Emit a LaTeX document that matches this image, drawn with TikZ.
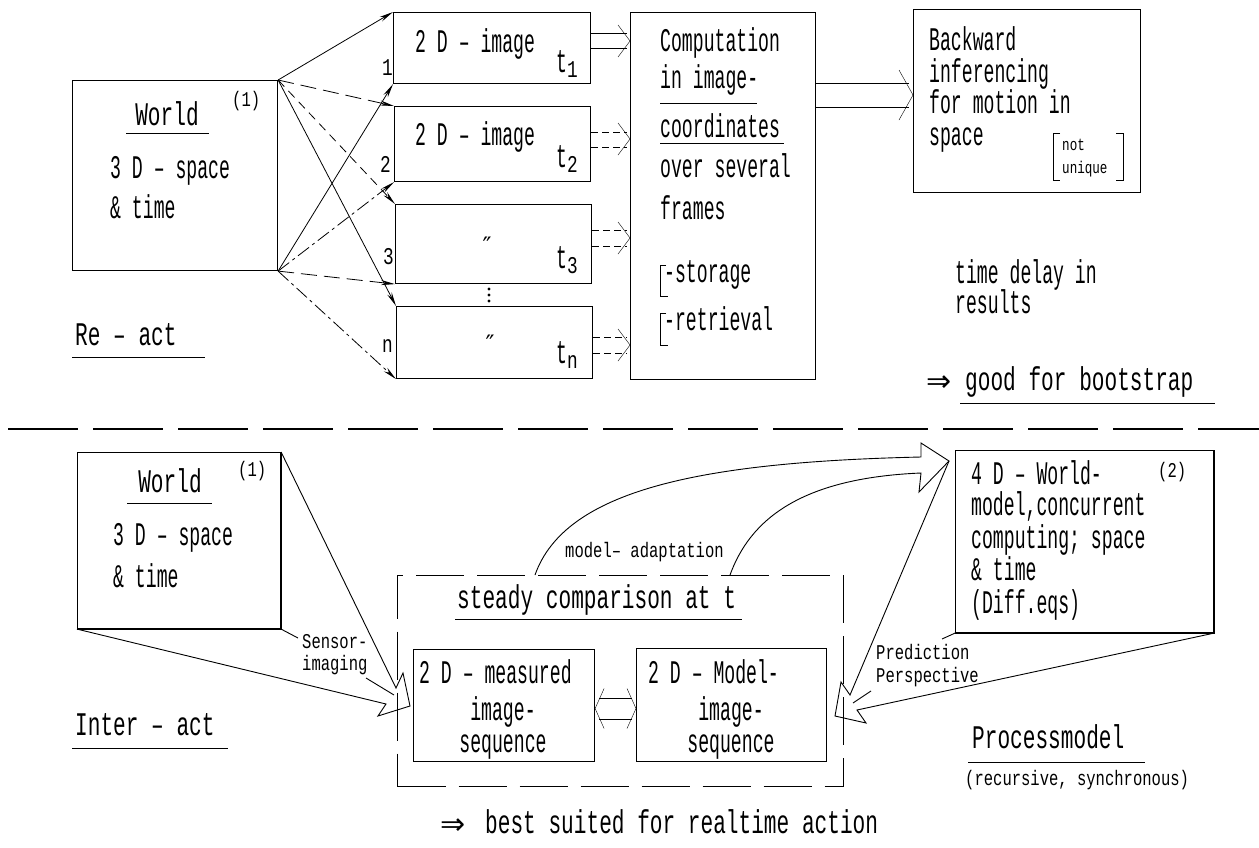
\documentclass[tikz,border=0pt]{standalone}
\usepackage{fontspec}
\usetikzlibrary{arrows.meta,calc}
\newfontfamily\plotfont[FakeStretch=0.55]{Liberation Mono}
\newfontfamily\plotwide[FakeStretch=0.64]{Liberation Mono}
\newfontfamily\plotsmall[FakeStretch=0.74]{Liberation Mono}
\newfontfamily\symfont{DejaVu Sans}
\newcommand\fM{\plotfont\fontsize{33}{38}\selectfont}
\newcommand\fW{\plotwide\fontsize{33}{38}\selectfont}
\newcommand\fS{\plotsmall\fontsize{21}{25}\selectfont}
\newcommand\fT{\plotsmall\fontsize{17}{20}\selectfont}
\newcommand\fN{\plotsmall\fontsize{24}{28}\selectfont}
% open chevron head pointing right at #1, half opening #2, depth #3
\newcommand\chevR[3]{\draw (#1) ++(-#3,-#2) -- (#1) -- ++(-#3,#2);}
\newcommand\chevL[3]{\draw (#1) ++(#3,-#2) -- (#1) -- ++(#3,#2);}
\begin{document}
\begin{tikzpicture}[x=1pt,y=-1pt,line join=miter,
  box/.style={draw,line width=1.1pt,anchor=north west,inner sep=0pt},
  T/.style={anchor=base west,inner sep=0pt,font=\fM},
  TW/.style={anchor=base west,inner sep=0pt,font=\fW},
  TS/.style={anchor=base west,inner sep=0pt,font=\fS},
  TT/.style={anchor=base west,inner sep=0pt,font=\fT},
  TN/.style={anchor=base west,inner sep=0pt,font=\fN},
  fa/.style={line width=0.8pt,-{Stealth[length=14pt,width=5pt]}},
  ld/.style={dash pattern=on 16pt off 7pt},
  sd/.style={dash pattern=on 9pt off 6pt},
  dd/.style={dash pattern=on 14pt off 4pt on 3pt off 4pt},
  sh/.style={dash pattern=on 7pt off 4pt},
  ln/.style={line width=0.9pt},
  hl/.style={line width=0.9pt},
  ul/.style={line width=1pt}]
\useasboundingbox (0,0) rectangle (1259,847);

% ---------------- upper half: re-act ----------------
\node[box,minimum width=205pt,minimum height=190pt] (w1) at (72,80) {};
\node[box,minimum width=197pt,minimum height=71pt] (i1) at (393,12) {};
\node[box,minimum width=196pt,minimum height=75pt] (i2) at (394,106) {};
\node[box,minimum width=196pt,minimum height=79pt] (i3) at (395,204) {};
\node[box,minimum width=196pt,minimum height=72pt] (in) at (396,306) {};
\node[box,minimum width=185pt,minimum height=367pt] (comp) at (630,12) {};
\node[box,minimum width=227pt,minimum height=183pt] (back) at (913,9) {};

% world box text
\node[anchor=base,inner sep=0pt,font=\fW] (w1a) at (167,125) {World};
\draw[ul] (126,133) -- (209,133);
\node[TS] (w1n) at (232,106) {(1)};
\node[T] (w1b) at (110,178) {3 D – space};
\node[T] (w1c) at (110,218) {\& time};

% fan of projections
\draw[fa] (w1.north east) -- (i1.north west);
\draw[fa,ld] (w1.north east) -- (i2.north west);
\draw[fa,sd] (w1.north east) -- (i3.north west);
\draw[fa] (w1.north east) -- (in.north west);
\draw[fa] (w1.south east) -- (i1.south west);
\draw[fa,dd] (w1.south east) -- (i2.south west);
\draw[fa,ld] (w1.south east) -- (i3.south west);
\draw[fa,dd] (w1.south east) -- (in.south west);
\node[TN] (l1) at (382,75) {1};
\node[TN] (l2) at (380,172) {2};
\node[TN] (l3) at (383,264) {3};
\node[TN] (ln) at (382,352) {n};

% image frames
\node[T] (i1t) at (415,52) {2 D – image};
\node[T] (i1s) at (556,72) {t\raisebox{-5pt}{\fN 1}};
\node[T] (i2t) at (415,145) {2 D – image};
\node[T] (i2s) at (556,167) {t\raisebox{-5pt}{\fN 2}};
\node[anchor=center,inner sep=0pt,font=\symfont\fontsize{24}{28}\selectfont] (i3t) at (487,246) {″};
\node[T] (i3s) at (556,268) {t\raisebox{-5pt}{\fN 3}};
\node[anchor=center,inner sep=0pt,font=\symfont\fontsize{24}{28}\selectfont] (int) at (490,344) {″};
\node[T] (ins) at (556,363) {t\raisebox{-5pt}{\fN n}};
\fill (489,289) circle (1.6pt) (489,295) circle (1.6pt) (489,301) circle (1.6pt);

% frames into the computation
\draw[ln] (i1.east |- 0,33) -- ($(comp.west |- 0,33)+(-3,0)$);
\draw[ln] (i1.east |- 0,48) -- ($(comp.west |- 0,48)+(-3,0)$);
\chevR{comp.west |- 0,41}{16}{12}
\draw[ln,sh] (i2.east |- 0,132) -- ($(comp.west |- 0,132)+(-3,0)$);
\draw[ln,sh] (i2.east |- 0,147) -- ($(comp.west |- 0,147)+(-3,0)$);
\chevR{comp.west |- 0,139}{16}{12}
\draw[ln,sh] (i3.east |- 0,230) -- ($(comp.west |- 0,230)+(-3,0)$);
\draw[ln,sh] (i3.east |- 0,246) -- ($(comp.west |- 0,246)+(-3,0)$);
\chevR{comp.west |- 0,238}{16}{12}
\draw[ln,sh] (in.east |- 0,337) -- ($(comp.west |- 0,337)+(-3,0)$);
\draw[ln,sh] (in.east |- 0,353) -- ($(comp.west |- 0,353)+(-3,0)$);
\chevR{comp.west |- 0,345}{16}{12}

% computation text
\node[T] (c1) at (660,51) {Computation};
\node[T] (c2) at (660,88) {in image-};
\draw[ul] (660,103) -- (757,103);
\node[T] (c3) at (660,137) {coordinates};
\draw[ul] (660,143) -- (784,143);
\node[T] (c4) at (660,177) {over several};
\node[T] (c5) at (660,219) {frames};
\draw[ln] (666,265) -- (660,265) -- (660,296) -- (668,296);
\node[T] (c6) at (664,282) {-storage};
\draw[ln] (666,313) -- (660,313) -- (660,345) -- (668,345);
\node[T] (c7) at (664,330) {-retrieval};

% computation into backward inference
\draw[ln] (comp.east |- 0,83) -- ($(back.west |- 0,83)+(-4,0)$);
\draw[ln] (comp.east |- 0,107) -- ($(back.west |- 0,107)+(-4,0)$);
\chevR{back.west |- 0,95}{25}{14}

\node[T] (b1) at (929,50) {Backward};
\node[T] (b2) at (929,82) {inferencing};
\node[T] (b3) at (929,113) {for motion in};
\node[T] (b4) at (929,145) {space};
\draw[ln] (1060,133) -- (1053,133) -- (1053,180) -- (1060,180);
\draw[ln] (1116,133) -- (1123,133) -- (1123,180) -- (1116,180);
\node[TT] (b5) at (1062,150) {not};
\node[TT] (b6) at (1062,173) {unique};

\node[T] (d1) at (955,283) {time delay in};
\node[T] (d2) at (955,313) {results};
\node[anchor=base west,inner sep=0pt,font=\symfont\fontsize{30}{34}\selectfont] (g0) at (926,391) {⇒};
\node[TW] (g1) at (965,390) {good for bootstrap};
\draw[ul] (960,403) -- (1215,403);

\node[TW] (ra) at (75,345) {Re – act};
\draw[ul] (72,357) -- (205,357);

% separator
\draw[line width=1.6pt,dash pattern=on 70pt off 15pt] (8,429) -- (1259,429);

% ---------------- lower half: inter-act ----------------
\node[box,minimum width=203pt,minimum height=176pt] (w2) at (77,452) {};
\draw[line width=2.4pt] (w2.north east) -- (w2.south east) -- (w2.south west);
\node[anchor=base,inner sep=0pt,font=\fW] (w2a) at (170,492) {World};
\draw[ul] (127,503) -- (212,503);
\node[TS] (w2n) at (238,476) {(1)};
\node[T] (w2b) at (113,545) {3 D – space};
\node[T] (w2c) at (113,587) {\& time};

\node[box,dash pattern=on 48pt off 13pt,minimum width=446pt,minimum height=211pt] (cmp) at (397,575) {};
\node[box,minimum width=181pt,minimum height=112pt] (meas) at (413,649) {};
\node[box,minimum width=190pt,minimum height=113pt] (mod) at (636,648) {};
\node[box,minimum width=258pt,minimum height=182pt] (wm) at (955,450) {};
\draw[line width=2.4pt] (wm.north east) -- (wm.south east) -- (wm.south west);

\node[TW] (s1) at (457,608) {steady comparison at t};
\draw[ul] (455,619) -- (742,619);

\node[T] (m1) at (419,683) {2 D – measured};
\node[anchor=base,inner sep=0pt,font=\fM] (m2) at (503,720) {image-};
\node[anchor=base,inner sep=0pt,font=\fM] (m3) at (503,752) {sequence};
\node[T] (n1) at (648,683) {2 D – Model-};
\node[anchor=base,inner sep=0pt,font=\fM] (n2) at (731,720) {image-};
\node[anchor=base,inner sep=0pt,font=\fM] (n3) at (731,752) {sequence};

% comparison between measured and predicted images
\draw[ln] ($(meas.east |- 0,698)+(4,0)$) -- ($(mod.west |- 0,698)+(-4,0)$);
\draw[ln] ($(meas.east |- 0,719)+(4,0)$) -- ($(mod.west |- 0,719)+(-4,0)$);
\chevL{meas.east |- 0,708.5}{20}{9}
\chevR{mod.west |- 0,708.5}{20}{9}

% sensor imaging
\draw[hl] (w2.north east) -- (396,688) -- (403,673) -- (410,706) -- (378,716) -- (386,704) -- (w2.south west);
\node[TS] (si1) at (302,648) {Sensor-};
\node[TS] (si2) at (302,670) {imaging};
\draw[ln] (w2.south east) -- (298,638);
\draw[ln] (366,678) -- (394,695);

% 4D model
\node[T] (wm1) at (971,484) {4 D – World-};
\node[TS] (wmn) at (1158,477) {(2)};
\node[T] (wm2) at (971,515) {model,concurrent};
\node[T] (wm3) at (971,548) {computing; space};
\node[T] (wm4) at (971,580) {\& time};
\node[T] (wm5) at (971,613) {(Diff.eqs)};

% model adaptation
\coordinate (adtip) at (949,461);
\draw[hl] (535,0 |- cmp.north) .. controls (565,490) and (700,462) .. (921,457)
  -- (921,443) -- (adtip) -- (919,492) -- (921,473)
  .. controls (800,478) and (750,520) .. (730,0 |- cmp.north);
\node[TS] (ma) at (565,557) {model– adaptation};

% prediction / perspective
\draw[hl] (adtip) -- (850,695) -- (841,682) -- (835,716) -- (866,723) -- (857,710) -- (wm.south east);
\node[TS] (pp1) at (876,659) {Prediction};
\node[TS] (pp2) at (876,682) {Perspective};
\draw[ln] (wm.south west) -- (942,639);
\draw[ln] (871,691) -- (853,703);

\node[TW] (pm) at (972,748) {Processmodel};
\draw[ul] (968,762) -- (1145,762);
\node[TS] (pm2) at (965,785) {(recursive, synchronous)};

\node[TW] (ia) at (75,735) {Inter – act};
\draw[ul] (72,748) -- (228,748);

\node[anchor=base west,inner sep=0pt,font=\symfont\fontsize{30}{34}\selectfont] (bs0) at (440,834) {⇒};
\node[TW] (bs1) at (485,833) {best suited for realtime action};
\end{tikzpicture}
\end{document}
